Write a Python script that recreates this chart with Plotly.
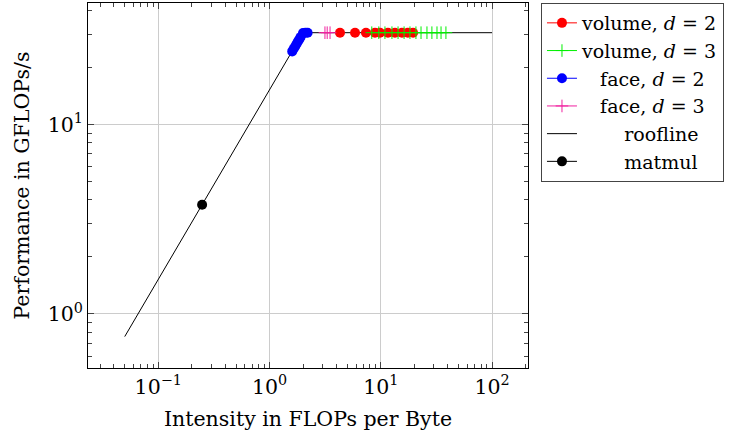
import plotly.graph_objects as go

# ---- data ----
vol2_x = [4.3, 5.87, 7.36, 8.87, 9.84, 11.6, 13.4, 15.5, 17.5, 19.5]
vol2_y = [30.5, 30.5, 30.5, 30.5, 30.5, 30.5, 30.5, 30.5, 30.5, 30.5]

vol3_x = [8.3, 9.6, 10.9, 12.6, 14.3, 16.2, 18.3, 20.7, 23.0, 26.0, 28.8, 32.0, 34.8, 38.5]
vol3_y = [30.5, 30.5, 30.5, 30.5, 30.5, 30.5, 30.5, 30.5, 30.5, 30.5, 30.5, 30.5, 30.5, 30.5]

face2_x = [1.6, 1.65, 1.7, 1.75, 1.8, 1.85, 1.9, 2.0, 2.1, 2.2]
face2_y = [24.3, 25.1, 25.8, 26.6, 27.4, 28.1, 28.9, 30.4, 30.5, 30.5]

face3_x = [3.15, 3.3, 3.5]
face3_y = [30.5, 30.5, 30.5]

roof_x = [0.05, 2.0, 100.0]
roof_y = [0.76, 30.5, 30.5]

matmul_x = [0.248]
matmul_y = [3.77]

x_tickvals = [0.1, 1, 10, 100]
x_ticktext = ["10<sup>\u22121</sup>", "10<sup>0</sup>", "10<sup>1</sup>", "10<sup>2</sup>"]
y_tickvals = [1, 10]
y_ticktext = ["10<sup>0</sup>", "10<sup>1</sup>"]

x_minor = [m * 10 ** k for k in range(-2, 3) for m in range(2, 10)]
y_minor = [m * 10 ** k for k in range(-1, 2) for m in range(2, 10)]

FONT = "DejaVu Serif"
FS = 20.5
LFS = 19
PINK = "#f0209f"
GREEN = "#00f000"
NB = "\u00a0"

fig = go.Figure()

def add_series(x, y, color, symbol, size, lw=1):
    fig.add_trace(go.Scatter(x=x, y=y, mode="markers", showlegend=False,
                             marker=dict(color=color, symbol=symbol, size=size,
                                         line=dict(color=color, width=lw))))

# roofline first (below markers)
fig.add_trace(go.Scatter(x=roof_x, y=roof_y, mode="lines", showlegend=False,
                         line=dict(color="black", width=1)))
add_series(vol2_x, vol2_y, "#ff0000", "circle", 10, 0)
add_series(vol3_x, vol3_y, GREEN, "cross-thin", 9, 1)
add_series(face2_x, face2_y, "#0000ff", "circle", 10, 0)
add_series(face3_x, face3_y, PINK, "cross-thin", 9, 1)
fig.add_trace(go.Scatter(x=matmul_x, y=matmul_y, mode="markers", showlegend=False,
                         marker=dict(color="black", symbol="circle", size=10)))

# legend entries
legend_items = [
    ("volume, <i>d</i> = 2", "#ff0000", "circle", 10, 0, "lines+markers"),
    ("volume, <i>d</i> = 3", GREEN, "cross-thin", 9, 1, "lines+markers"),
    (NB * 3 + "face, <i>d</i> = 2", "#0000ff", "circle", 10, 0, "lines+markers"),
    (NB * 3 + "face, <i>d</i> = 3", PINK, "cross-thin", 9, 1, "lines+markers"),
    (NB * 7 + "roofline", "black", "circle", 10, 0, "lines"),
    (NB * 7 + "matmul", "black", "circle", 10, 0, "lines+markers"),
]
for i, (nm, col, sym, sz, lw, mode) in enumerate(legend_items):
    fig.add_trace(go.Scatter(x=[None], y=[None], mode=mode, name=nm, legendgroup=f"g{i}",
                             line=dict(color=col, width=1),
                             marker=dict(color=col, symbol=sym, size=sz,
                                         line=dict(color=col, width=lw))))

axis_common = dict(type="log", showline=True, linecolor="black", linewidth=1, mirror="ticks",
                   ticks="inside", ticklen=6, tickcolor="#444", showgrid=True,
                   gridcolor="#cccccc", gridwidth=1, zeroline=False,
                   tickfont=dict(family=FONT, size=FS, color="black"))

fig.update_xaxes(**axis_common, range=[-1.631, 2.323], tickmode="array",
                 tickvals=x_tickvals, ticktext=x_ticktext,
                 minor=dict(tickvals=x_minor, ticks="inside", ticklen=4, tickcolor="#444", showgrid=False),
                 title=dict(text="Intensity in FLOPs per Byte", font=dict(family=FONT, size=FS, color="black"),
                            standoff=14))
fig.update_yaxes(**axis_common, range=[-0.285, 1.641], tickmode="array",
                 tickvals=y_tickvals, ticktext=y_ticktext,
                 minor=dict(tickvals=y_minor, ticks="inside", ticklen=4, tickcolor="#444", showgrid=False),
                 title=dict(text="Performance in GFLOPs/s", font=dict(family=FONT, size=FS, color="black"),
                            standoff=12))

fig.update_layout(
    width=734, height=433,
    margin=dict(l=88, r=206, t=3, b=65),
    plot_bgcolor="white", paper_bgcolor="white",
    font=dict(family=FONT, size=FS, color="black"),
    legend=dict(x=1.0295, y=1.0, xanchor="left", yanchor="top",
                bordercolor="#444", borderwidth=1, bgcolor="white",
                tracegroupgap=0, font=dict(family=FONT, size=LFS, color="black"),
                itemwidth=30),
)

fig.write_html("out.html")
